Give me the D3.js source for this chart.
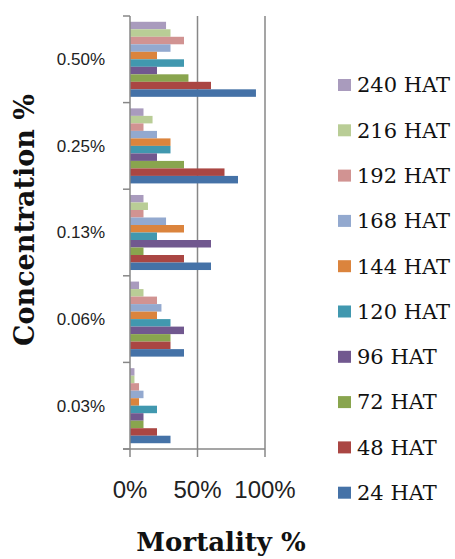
<!DOCTYPE html>
<html><head><meta charset="utf-8">
<script src="https://cdn.jsdelivr.net/npm/d3@7"></script>
<style>body{margin:0;background:#fff}svg{display:block}</style>
</head><body>
<svg id="c" width="455" height="559"></svg>
<script>
const categories = ["0.50%", "0.25%", "0.13%", "0.06%", "0.03%"];
const seriesNames = ["240 HAT","216 HAT","192 HAT","168 HAT","144 HAT","120 HAT","96 HAT","72 HAT","48 HAT","24 HAT"];
const seriesColors = ["#A99BBD","#B9CD96","#D19392","#93A9CF","#DB843D","#4198AF","#71588F","#89A54E","#AA4643","#4572A7"];
// values per series, in order of categories (0.50%, 0.25%, 0.13%, 0.06%, 0.03%)
const v240 = [26.7, 10, 10, 6.7, 3.3];
const v216 = [30, 16.7, 13.3, 10, 3.3];
const v192 = [40, 10, 10, 20, 6.7];
const v168 = [30, 20, 26.7, 23.3, 10];
const v144 = [20, 30, 40, 20, 6.7];
const v120 = [40, 30, 20, 30, 20];
const v96  = [20, 20, 60, 40, 10];
const v72  = [43.3, 40, 10, 30, 10];
const v48  = [60, 70, 40, 30, 20];
const v24  = [93.3, 80, 60, 40, 30];
const seriesValues = [v240, v216, v192, v168, v144, v120, v96, v72, v48, v24];
const xTicks = [0, 50, 100];
const legendOrder = seriesNames; // top to bottom

const svg = d3.select("#c");
const x = d3.scaleLinear().domain([0, 100]).range([130, 265]);
const y = d3.scaleBand().domain(categories).range([16, 449]).padding(0);
const yi = d3.scaleBand().domain(seriesNames).range([0, y.bandwidth()]).paddingInner(0).paddingOuter(0.77);

const grid = "#878787";
// gridlines
svg.append("g").selectAll("line").data(xTicks.slice(1)).join("line")
  .attr("x1", d => x(d)).attr("x2", d => x(d)).attr("y1", 16).attr("y2", 449)
  .attr("stroke", grid).attr("stroke-width", 1.5);

// bars
const data = [];
categories.forEach((c, ci) => seriesNames.forEach((s, si) => data.push({c, s, v: seriesValues[si][ci], col: seriesColors[si]})));
svg.append("g").selectAll("rect").data(data).join("rect")
  .attr("x", x(0)).attr("y", d => y(d.c) + yi(d.s))
  .attr("width", d => x(d.v) - x(0)).attr("height", yi.bandwidth())
  .attr("fill", d => d.col);

// y axis
const ga = svg.append("g").attr("transform", "translate(130,0)");
ga.append("line").attr("x1",0).attr("x2",0).attr("y1",16).attr("y2",449).attr("stroke",grid).attr("stroke-width",1.5);
const bounds = categories.map(c => y(c)).concat([y.range()[1]]);
ga.selectAll("line.t").data(bounds).join("line").attr("class","t")
  .attr("x1",-7).attr("x2",0).attr("y1",d=>d).attr("y2",d=>d).attr("stroke",grid).attr("stroke-width",1.5);
svg.append("g").selectAll("text").data(categories).join("text")
  .attr("x", 105).attr("y", d => y(d) + y.bandwidth()/2).attr("dy","0.35em")
  .attr("text-anchor","end").attr("font-family","'Liberation Sans', Arial, sans-serif")
  .attr("font-size", 17).attr("fill","#222").text(d => d);

// x axis
const gx = svg.append("g").attr("transform","translate(0,449)");
gx.append("line").attr("x1",123).attr("x2",x(100)).attr("y1",0).attr("y2",0).attr("stroke",grid).attr("stroke-width",1.5);
gx.selectAll("line.t").data(xTicks).join("line").attr("class","t")
  .attr("x1",d=>x(d)).attr("x2",d=>x(d)).attr("y1",0).attr("y2",8).attr("stroke",grid).attr("stroke-width",1.5);
gx.selectAll("text").data(xTicks).join("text")
  .attr("x", d => x(d)).attr("y", 49).attr("text-anchor","middle")
  .attr("font-family","'Liberation Sans', Arial, sans-serif").attr("font-size",24).attr("fill","#222")
  .text(d => d + "%");

// titles
svg.append("text").attr("x", 221).attr("y", 551).attr("text-anchor","middle")
  .attr("font-family","'DejaVu Serif', serif").attr("font-weight","bold").attr("font-size",26)
  .attr("fill","#111").text("Mortality %");
svg.append("text").attr("transform","translate(34,220) rotate(-90)").attr("text-anchor","middle")
  .attr("font-family","'DejaVu Serif', serif").attr("font-weight","bold").attr("font-size",27)
  .attr("fill","#111").text("Concentration %");

// legend
const lg = svg.append("g").selectAll("g").data(legendOrder).join("g")
  .attr("transform", (d,i) => `translate(338,${85 + i*45.3})`);
lg.append("rect").attr("x",0).attr("y",-6).attr("width",13).attr("height",12)
  .attr("fill", (d,i) => seriesColors[seriesNames.indexOf(d)]);
lg.append("text").attr("x",19).attr("y",0).attr("dy","0.35em")
  .attr("font-family","'DejaVu Serif', serif").attr("font-size",21).attr("fill","#111").text(d => d);
</script>
</body></html>
